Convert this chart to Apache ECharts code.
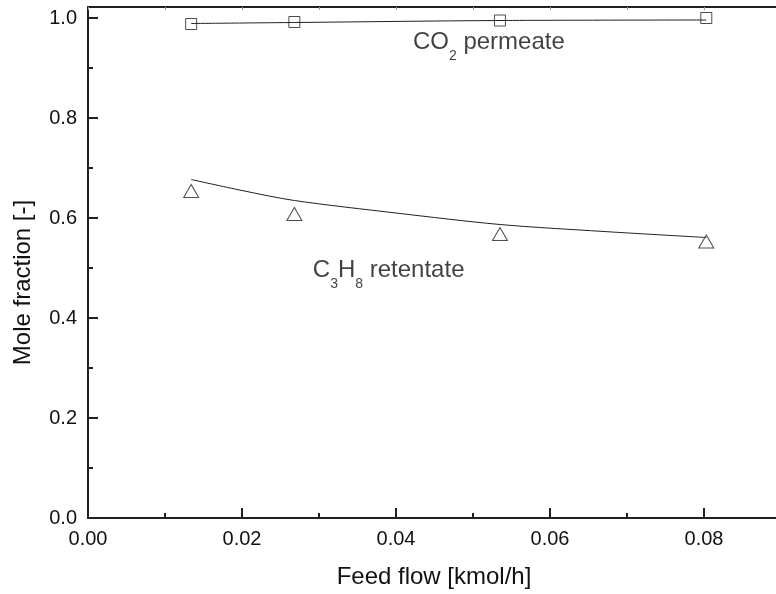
<!DOCTYPE html>
<html>
<head>
<meta charset="utf-8">
<title>Mole fraction vs feed flow</title>
<script src="https://cdn.jsdelivr.net/npm/echarts@6/dist/echarts.min.js"></script>
<style>
  html, body { margin: 0; padding: 0; background: #ffffff; }
  #chart { width: 776px; height: 594px; }
</style>
</head>
<body>
<div id="chart"></div>
<script>
// Measured points
const feedFlow = [0.0134, 0.0268, 0.0535, 0.0803];
const co2Permeate = [0.988, 0.992, 0.995, 1.000];
const c3h8Retentate = [0.654, 0.608, 0.568, 0.553];

// Model curves
const co2ModelFlow = [0.0134, 0.0268, 0.0535, 0.0803];
const co2Model = [0.989, 0.991, 0.995, 0.996];
const c3h8ModelFlow = [0.0134, 0.0200, 0.0268, 0.0400, 0.0535, 0.0670, 0.0803];
const c3h8Model = [0.677, 0.655, 0.635, 0.610, 0.587, 0.573, 0.561];

// Axis ranges and tick steps
const xRange = [0, 0.1];
const xStep = 0.02;
const yRange = [0, 1.022];
const yStep = 0.2;
const yMinorStep = 0.1;

const INK = '#231f20';
const TEXT = '#111111';
const FONT = '"Liberation Sans", Arial, Helvetica, sans-serif';

const zip = (xs, ys) => xs.map((x, i) => [x, ys[i]]);

const chart = echarts.init(document.getElementById('chart'), null, { renderer: 'canvas' });

const subRich = {
  m: { fontSize: 24, fontFamily: FONT, color: TEXT },
  s: { fontSize: 14, fontFamily: FONT, color: TEXT, lineHeight: 14, padding: [29, 0, 0, 0] }
};

const option = {
  animation: false,
  backgroundColor: '#ffffff',
  // plot box runs past the right edge of the canvas (x max 0.1 lies off-page)
  grid: {
    left: 88, width: 770, top: 7, bottom: 76,
    containLabel: false,
    outerBoundsMode: 'none'
  },
  xAxis: [
    {
      type: 'value',
      position: 'bottom',
      min: xRange[0], max: xRange[1], interval: xStep,
      name: 'Feed flow [kmol/h]',
      nameLocation: 'middle',
      nameGap: 47,
      // right padding pulls the title back toward the visible part of the axis
      nameTextStyle: { fontSize: 24, fontFamily: FONT, color: TEXT, padding: [0, 78, 0, 0] },
      axisLine: { show: true, onZero: false, lineStyle: { color: INK, width: 2 } },
      axisTick: { show: true, inside: true, length: 10, lineStyle: { color: INK, width: 2 } },
      minorTick: { show: true, splitNumber: 2, length: 5, lineStyle: { color: INK, width: 2 } },
      axisLabel: {
        show: true, margin: 11, fontSize: 20, fontFamily: FONT, color: TEXT,
        showMaxLabel: false,
        formatter: v => v.toFixed(2)
      },
      splitLine: { show: false }
    },
    {
      type: 'value',
      position: 'top',
      min: xRange[0], max: xRange[1], interval: xStep,
      axisLine: { show: true, onZero: false, lineStyle: { color: INK, width: 2 } },
      axisTick: { show: true, inside: true, length: 3, lineStyle: { color: '#9a9a9a', width: 1 } },
      minorTick: { show: true, splitNumber: 2, length: 3, lineStyle: { color: '#9a9a9a', width: 1 } },
      axisLabel: { show: false },
      splitLine: { show: false }
    }
  ],
  yAxis: [
    {
      type: 'value',
      position: 'left',
      min: yRange[0], max: yRange[1], interval: yStep,
      name: 'Mole fraction [-]',
      nameLocation: 'middle',
      nameGap: 53,
      nameTextStyle: { fontSize: 24, fontFamily: FONT, color: TEXT, padding: [0, 40, 0, 0] },
      axisLine: { show: true, onZero: false, lineStyle: { color: INK, width: 2 } },
      axisTick: { show: true, inside: true, length: 10, lineStyle: { color: INK, width: 2 } },
      axisLabel: {
        show: true, margin: 11, fontSize: 20, fontFamily: FONT, color: TEXT,
        showMaxLabel: false,
        formatter: v => v.toFixed(1)
      },
      splitLine: { show: false }
    },
    {
      type: 'value',
      position: 'left',
      min: yRange[0], max: yRange[1], interval: yMinorStep,
      axisLine: { show: false },
      axisTick: { show: true, inside: true, length: 5, lineStyle: { color: INK, width: 2 } },
      axisLabel: { show: false },
      splitLine: { show: false }
    }
  ],
  series: [
    {
      name: 'CO2 model',
      type: 'line',
      data: zip(co2ModelFlow, co2Model),
      showSymbol: false,
      symbol: 'none',
      smooth: 0.3,
      lineStyle: { color: INK, width: 1 },
      z: 2
    },
    {
      name: 'C3H8 model',
      type: 'line',
      data: zip(c3h8ModelFlow, c3h8Model),
      showSymbol: false,
      symbol: 'none',
      smooth: 0.3,
      lineStyle: { color: INK, width: 1 },
      z: 2
    },
    {
      name: 'CO2 permeate',
      type: 'scatter',
      data: zip(feedFlow, co2Permeate),
      symbol: 'rect',
      symbolSize: 11,
      itemStyle: { color: 'rgba(0,0,0,0)', borderColor: INK, borderWidth: 1 },
      z: 3
    },
    {
      name: 'C3H8 retentate',
      type: 'scatter',
      data: zip(feedFlow, c3h8Retentate),
      symbol: 'triangle',
      symbolSize: [15, 13],
      itemStyle: { color: 'rgba(0,0,0,0)', borderColor: INK, borderWidth: 1 },
      z: 3
    },
    {
      name: 'series labels',
      type: 'scatter',
      symbolSize: 0,
      silent: true,
      data: [
        { value: [0.0422, 0.952], label: { formatter: '{m|CO}{s|2}{m| permeate}' } },
        { value: [0.0292, 0.496], label: { formatter: '{m|C}{s|3}{m|H}{s|8}{m| retentate}' } }
      ],
      label: {
        show: true,
        position: 'right',
        distance: 0,
        rich: subRich
      },
      z: 4
    }
  ]
};

chart.setOption(option);
</script>
</body>
</html>
